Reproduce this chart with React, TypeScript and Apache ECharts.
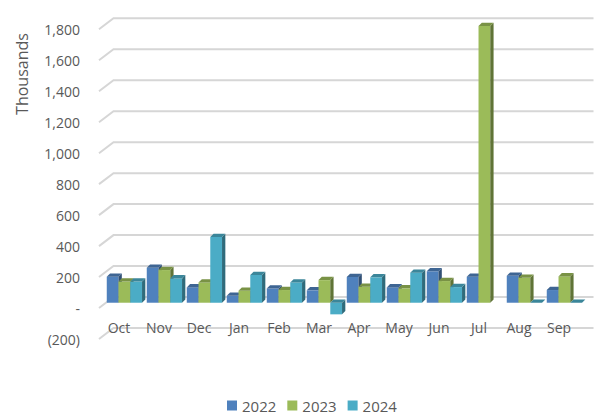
import React, { useEffect, useRef } from 'react';
import * as echarts from 'echarts';

const categories = ['Oct', 'Nov', 'Dec', 'Jan', 'Feb', 'Mar', 'Apr', 'May', 'Jun', 'Jul', 'Aug', 'Sep'];
const seriesNames = ['2022', '2023', '2024'];
const values2022 = [168, 226, 99, 45, 92, 80, 166, 99, 203, 168, 174, 82];
const values2023 = [137, 211, 131, 77, 82, 146, 103, 93, 140, 1787, 161, 170];
const values2024: (number | null)[] = [137, 157, 424, 179, 131, -75, 164, 194, 101, null, 0, 0];
const yTicks = [-200, 0, 200, 400, 600, 800, 1000, 1200, 1400, 1600, 1800];
const colors = ['#4F81BD', '#9BBB59', '#4BACC6'];

const FONT = 'Open Sans, Noto Sans, sans-serif';
const TEXT = '#595959';

// wall depth offset
const WDX = 14.5;
const WDY = -11;
// bar plane offset and bar depth
const BDX = 5.4;
const BDY = -5.3;
const BD = 3.3;

function shade(hex: string, f: number): string {
  const n = parseInt(hex.slice(1), 16);
  const r = Math.round(((n >> 16) & 255) * f);
  const g = Math.round(((n >> 8) & 255) * f);
  const b = Math.round((n & 255) * f);
  return `rgb(${r},${g},${b})`;
}

function fmt(v: number): string {
  if (v === 0) return '-';
  const s = Math.abs(v).toLocaleString('en-US');
  return v < 0 ? `(${s})` : s;
}

function barSeries(name: string, values: (number | null)[], color: string, idx: number) {
  return {
    type: 'custom',
    name,
    z: 3,
    clip: false,
    itemStyle: { color },
    encode: { x: 0, y: 1 },
    data: values.map((v, i) => [i, v == null ? '-' : v]),
    renderItem: (params: any, api: any) => {
      const v = api.value(1);
      if (v == null || isNaN(v)) return null;
      const cat = api.value(0);
      const c = api.coord([cat, v]);
      const z0 = api.coord([cat, 0]);
      const band = api.size([1, 0])[0];
      const w = band * 0.294;
      const x = c[0] - 1.5 * w + idx * w + BDX;
      const yTop = Math.min(c[1], z0[1]) + BDY;
      const yBot = Math.max(c[1], z0[1]) + BDY;
      return {
        type: 'group',
        children: [
          {
            type: 'rect',
            shape: { x, y: yTop, width: w, height: yBot - yTop },
            style: { fill: color },
          },
          {
            type: 'polygon',
            shape: {
              points: [
                [x + w, yTop],
                [x + w + BD, yTop - BD],
                [x + w + BD, yBot - BD],
                [x + w, yBot],
              ],
            },
            style: { fill: shade(color, 0.62) },
          },
          {
            type: 'polygon',
            shape: {
              points: [
                [x, yTop],
                [x + BD, yTop - BD],
                [x + w + BD, yTop - BD],
                [x + w, yTop],
              ],
            },
            style: { fill: shade(color, 0.78) },
          },
        ],
      };
    },
  };
}

export default function App() {
  const ref = useRef<HTMLDivElement>(null);
  useEffect(() => {
    document.body.style.margin = '0';
    if (!ref.current) return;
    const chart = echarts.init(ref.current, undefined, { renderer: 'svg' });
    chart.setOption({
      animation: false,
      backgroundColor: '#ffffff',
      grid: { left: 99, top: 29.3, width: 480, height: 309.7, containLabel: false },
      xAxis: {
        type: 'category',
        data: categories,
        z: 10,
        axisLine: { show: false },
        axisTick: { show: false },
        splitLine: { show: false },
        axisLabel: {
          margin: -12,
          verticalAlign: 'middle',
          color: TEXT,
          fontSize: 14,
          fontFamily: FONT,
          interval: 0,
        },
      },
      yAxis: {
        type: 'value',
        min: -200,
        max: 1800,
        interval: 200,
        axisLine: { show: false },
        axisTick: { show: false },
        splitLine: { show: false },
        axisLabel: {
          margin: 19,
          color: TEXT,
          fontSize: 14,
          fontFamily: FONT,
          formatter: (v: number) => fmt(v),
        },
      },
      legend: {
        data: seriesNames.map((n) => ({ name: n, icon: 'rect' })),
        left: 227,
        top: 398,
        padding: 0,
        itemWidth: 10,
        itemHeight: 10,
        itemGap: 11,
        textStyle: { color: TEXT, fontSize: 15, fontFamily: FONT },
      },
      graphic: [
        {
          type: 'text',
          x: 22,
          y: 74,
          rotation: Math.PI / 2,
          style: {
            text: 'Thousands',
            fill: TEXT,
            fontSize: 16,
            fontFamily: FONT,
            align: 'center',
            verticalAlign: 'middle',
          },
        },
      ],
      series: [
        {
          type: 'custom',
          name: 'grid',
          z: 1,
          silent: true,
          clip: false,
          encode: { x: 0, y: 1 },
          data: yTicks.map((t) => [0, t]),
          renderItem: (params: any, api: any) => {
            const cs = params.coordSys;
            const y = api.coord([0, api.value(1)])[1];
            return {
              type: 'polyline',
              shape: {
                points: [
                  [cs.x, y],
                  [cs.x + WDX, y + WDY],
                  [cs.x + cs.width + WDX, y + WDY],
                ],
              },
              style: { stroke: '#d6d6d6', lineWidth: 2, fill: 'none' },
            };
          },
        },
        barSeries(seriesNames[0], values2022, colors[0], 0),
        barSeries(seriesNames[1], values2023, colors[1], 1),
        barSeries(seriesNames[2], values2024, colors[2], 2),
      ],
    });
    return () => chart.dispose();
  }, []);
  return <div ref={ref} style={{ width: 602, height: 415 }} />;
}
